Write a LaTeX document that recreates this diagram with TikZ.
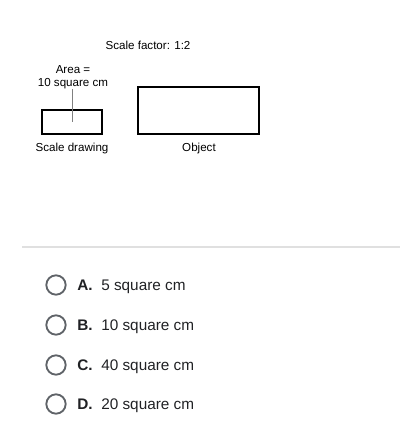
\documentclass[tikz,border=0pt]{standalone}
\usepackage{fontspec}
\setmainfont{Liberation Sans}
\definecolor{optgray}{HTML}{202124}
\definecolor{ringgray}{HTML}{5F6368}
\definecolor{rulegray}{HTML}{E0E0E0}
\tikzset{
  lbl/.style={font=\fontsize{8.7}{10}\selectfont, inner sep=0pt, align=center},
  outline/.style={draw, line width=1.5pt},
  radio/.style={circle, draw=ringgray, line width=1.4pt, minimum size=14.5pt, inner sep=0pt},
  answer/.style={font=\fontsize{11.5}{13}\selectfont, text=optgray, inner sep=0pt, anchor=base west}
}
\begin{document}
\begin{tikzpicture}[x=0.75pt,y=-0.75pt]
\useasboundingbox (0,0) rectangle (400,445);
\node[lbl] (title) at (148,45) {Scale factor: 1:2};
\node[lbl] (area) at (73,77) {Area =\\10 square cm};
\draw[outline] (42,110) rectangle (102,134);
\draw[outline] (138,87) rectangle (259,134);
\coordinate (inner) at (72,122);
\draw[line width=0.4pt, gray] (area.south -| inner) -- (inner);
\node[lbl] (drawing) at (72,149) {Scale drawing};
\node[lbl] (object) at (199,149) {Object};
\draw[rulegray, line width=0.8pt] (22,247) -- (400,247);
\foreach \y/\l/\t in {285/A/5 square cm,325/B/10 square cm,365/C/40 square cm,404/D/20 square cm} {
  \node[radio] (r\l) at (56,\y) {};
  \node[answer] (k\l) at (77,\y+5) {\textbf{\l.}};
  \node[answer] (a\l) at (101,\y+5) {\t};
}
\end{tikzpicture}
\end{document}
